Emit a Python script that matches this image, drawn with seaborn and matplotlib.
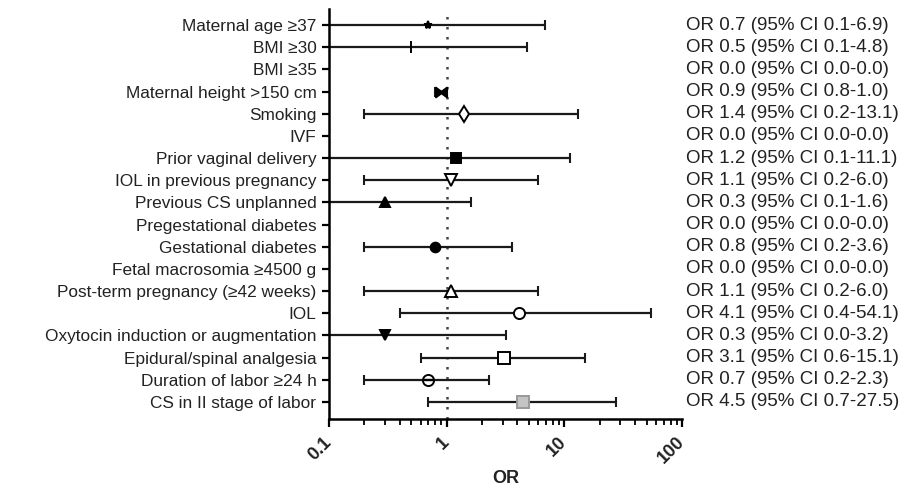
import numpy as np
import pandas as pd
import matplotlib
matplotlib.use("Agg")
import matplotlib.pyplot as plt
import seaborn as sns

# rows, top to bottom
factors = [
    "Maternal age ≥37", "BMI ≥30", "BMI ≥35", "Maternal height >150 cm",
    "Smoking", "IVF", "Prior vaginal delivery", "IOL in previous pregnancy",
    "Previous CS unplanned", "Pregestational diabetes", "Gestational diabetes",
    "Fetal macrosomia ≥4500 g", "Post-term pregnancy (≥42 weeks)", "IOL",
    "Oxytocin induction or augmentation", "Epidural/spinal analgesia",
    "Duration of labor ≥24 h", "CS in II stage of labor",
]
odds = [0.7, 0.5, 0.0, 0.9, 1.4, 0.0, 1.2, 1.1, 0.3, 0.0, 0.8, 0.0, 1.1, 4.1, 0.3, 3.1, 0.7, 4.5]
ci_low = [0.1, 0.1, 0.0, 0.8, 0.2, 0.0, 0.1, 0.2, 0.1, 0.0, 0.2, 0.0, 0.2, 0.4, 0.0, 0.6, 0.2, 0.7]
ci_high = [6.9, 4.8, 0.0, 1.0, 13.1, 0.0, 11.1, 6.0, 1.6, 0.0, 3.6, 0.0, 6.0, 54.1, 3.2, 15.1, 2.3, 27.5]

df = pd.DataFrame({"factor": factors, "OR": odds, "lo": ci_low, "hi": ci_high})
df["row"] = np.arange(len(df))

# marker style per row: (marker, facecolor, size)
styles = [
    ("*", "black", 6), ("|", "black", 9), None, ("$\\bowtie$", "black", 8),
    ("d", "white", 8), None, ("s", "black", 7), ("v", "white", 8),
    ("^", "black", 7), None, ("o", "black", 7), None,
    ("^", "white", 8), ("o", "white", 8), ("v", "black", 7), ("s", "white", 8),
    ("o", "none", 8), ("s", "#c4c4c4", 8),
]

sns.set_theme(style="ticks")
plt.rcParams["font.family"] = ["Liberation Sans", "DejaVu Sans"]

fig = plt.figure(figsize=(9.05, 4.88), dpi=100)
ax = fig.add_axes([0.3635, 0.1414, 0.39, 0.8396])

ax.axvline(1, color="#444444", linestyle=(0, (1, 3)), lw=1.8, zorder=1)

for (_, r), st in zip(df.iterrows(), styles):
    if st is None:
        continue
    ax.errorbar([r["OR"]], [r["row"]],
                xerr=[[r["OR"] - r["lo"]], [r["hi"] - r["OR"]]],
                fmt="none", ecolor="#1a1a1a", elinewidth=1.6,
                capsize=3.5, capthick=1.5, zorder=2)
    mk, fc, ms = st
    edge = "#999999" if fc == "#c4c4c4" else "black"
    ax.plot(r["OR"], r["row"], marker=mk, markersize=ms, markerfacecolor=fc,
            markeredgecolor=edge, markeredgewidth=1.4, linestyle="none", zorder=3)
    if mk == "o" and fc == "none":
        ax.plot([r["OR"] * 0.9, r["OR"] * 1.1], [r["row"], r["row"]], color="black", lw=1.6, zorder=3)

ax.set_xscale("log")
ax.set_xlim(0.1, 100)
ax.set_ylim(17.77, -0.71)
ax.set_yticks(df["row"])
ax.set_yticklabels(df["factor"], fontsize=12.4, color="#222222")
ax.set_xticks([0.1, 1, 10, 100])
ax.set_xticklabels(["0.1", "1", "10", "100"], rotation=45, ha="right", va="center",
                   rotation_mode="anchor", fontsize=13, fontweight="bold", color="#222222")
ax.set_xlabel("OR", fontsize=13, fontweight="bold", color="#222222")
ax.xaxis.set_label_coords(0.5, -0.125)

for sp in ["top", "right"]:
    ax.spines[sp].set_visible(False)
for sp in ["left", "bottom"]:
    ax.spines[sp].set_linewidth(1.8)
    ax.spines[sp].set_color("black")
ax.tick_params(axis="y", direction="out", length=5, width=1.6, color="black", pad=4)
ax.tick_params(axis="x", which="major", direction="out", length=6, width=1.6, color="black", pad=9)
ax.tick_params(axis="x", which="minor", direction="out", length=4, width=1.3, color="black")

# right-hand OR text
for _, r in df.iterrows():
    txt = f"OR {r['OR']:.1f} (95% CI {r['lo']:.1f}-{r['hi']:.1f})"
    ax.text(1.012, r["row"], txt, transform=ax.get_yaxis_transform(),
            va="center", ha="left", fontsize=13.5, color="#222222", clip_on=False)

fig.savefig("out.png", dpi=100)
